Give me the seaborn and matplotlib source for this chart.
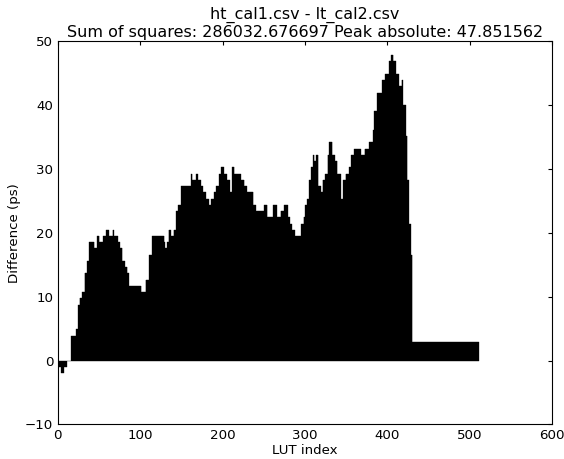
import numpy as np
import pandas as pd
import matplotlib
matplotlib.use('Agg')
import matplotlib.pyplot as plt
import seaborn as sns

# LUT resolution: one step is 1000/1024 ps
lsb_ps = 1000.0 / 1024.0
n_lut = 512

# difference: first LUT index of each run and its level (in LSB steps)
run_start = [0, 4, 8, 12, 17, 23, 25, 27, 30, 33, 36, 38, 45, 48, 51, 55, 59, 63, 67, 69,
             73, 76, 79, 82, 85, 87, 102, 107, 111, 115, 130, 131, 133, 135, 138, 141, 144, 147, 150, 162,
             164, 168, 171, 174, 177, 180, 184, 187, 190, 193, 196, 199, 202, 206, 209, 212, 215, 223, 227, 230,
             238, 241, 251, 255, 262, 267, 271, 275, 280, 282, 285, 288, 296, 299, 301, 303, 306, 308, 310, 312,
             314, 317, 320, 322, 325, 328, 330, 334, 337, 340, 344, 347, 350, 354, 357, 360, 369, 373, 378, 383,
             385, 388, 394, 398, 403, 405, 408, 411, 415, 418, 420, 423, 425, 427, 429, 431]
run_level = [-1, -2, -1, 0, 4, 5, 9, 10, 11, 14, 16, 19, 18, 20, 19, 20, 21, 20, 21, 20,
             19, 18, 16, 15, 14, 12, 11, 13, 17, 20, 19, 18, 19, 21, 20, 21, 24, 25, 28, 30,
             29, 30, 29, 28, 27, 26, 25, 26, 27, 28, 30, 31, 30, 29, 27, 31, 30, 29, 28, 27,
             25, 24, 25, 23, 25, 23, 24, 25, 23, 22, 21, 20, 22, 23, 25, 26, 29, 31, 33, 32,
             33, 28, 27, 29, 30, 33, 35, 33, 32, 30, 26, 29, 30, 31, 33, 34, 33, 34, 35, 37,
             40, 43, 45, 46, 48, 49, 48, 46, 44, 45, 41, 36, 29, 22, 17, 3]

title_files = 'ht_cal1.csv - lt_cal2.csv'
sum_sq = 286032.676697
peak_abs = 47.851562

run_len = np.diff(run_start + [n_lut])
diff_ps = np.repeat(run_level, run_len) * lsb_ps
df = pd.DataFrame({'lut': np.arange(n_lut), 'diff': diff_ps})

sns.set_style('white')
plt.rcParams['font.family'] = ['DejaVu Sans']
plt.rcParams['text.color'] = 'black'
plt.rcParams['axes.labelcolor'] = 'black'

fig = plt.figure(figsize=(564 / 80, 459 / 80), dpi=80)
ax = fig.add_axes([0.1025, 0.0752, 0.8762, 0.8344])

sns.barplot(data=df, x='lut', y='diff', native_scale=True, color='black',
            edgecolor='black', linewidth=0.3, width=1.0, saturation=1,
            errorbar=None, ax=ax)

ax.set_xlim(0, 600)
ax.set_ylim(-10, 50)
ax.set_xticks(range(0, 601, 100))
ax.set_yticks(range(-10, 51, 10))
ax.tick_params(direction='in', top=True, right=True, length=4, width=1,
               labelsize=12, colors='black', pad=4)
for s in ax.spines.values():
    s.set_color('black')
    s.set_linewidth(1)

ax.set_xlabel('LUT index', fontsize=12, labelpad=2)
ax.set_ylabel('Difference (ps)', fontsize=12)
ax.set_title(f'{title_files}\nSum of squares: {sum_sq:f} Peak absolute: {peak_abs:f}',
             fontsize=14.4, pad=4, color='black')

plt.savefig('out.png', dpi=80)
plt.close()
